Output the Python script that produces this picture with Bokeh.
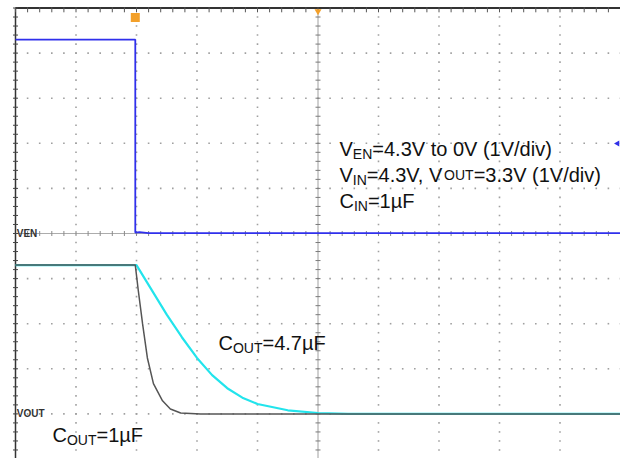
import numpy as np
from bokeh.plotting import figure
from bokeh.models import Range1d
from bokeh.embed import file_html
from bokeh.resources import INLINE
from bokeh.core.properties import value

# ---------------- data (time in divisions, volts at 1 V/div) ----------------
t_en = [0.0, 1.98, 1.98, 2.05, 2.20, 10.0]
v_en = [4.30, 4.30, 0.02, 0.03, 0.01, 0.01]

# V_OUT with C_OUT = 4.7 uF (cyan)
t_out47 = [0.0, 1.98, 2.00, 2.25, 2.50, 2.75, 3.00, 3.25, 3.50, 3.75, 4.00, 4.50, 5.00, 5.50, 10.0]
v_out47 = [3.30, 3.30, 3.30, 2.75, 2.20, 1.70, 1.24, 0.86, 0.57, 0.36, 0.22, 0.08, 0.02, 0.0, 0.0]

# V_OUT with C_OUT = 1 uF (gray)
t_out1 = [0.0, 1.98, 2.03, 2.10, 2.18, 2.28, 2.43, 2.56, 2.73, 3.06, 10.0]
v_out1 = [3.30, 3.30, 2.73, 2.00, 1.24, 0.67, 0.29, 0.11, 0.02, 0.0, 0.0]

VOUT_OFFSET = -4.0   # VOUT ground marker position (divisions)
EN_OFFSET = 0.0      # VEN ground marker position (divisions)
TRIG_T = 1.98

# ---------------- figure ----------------
PX_X = 60.5   # pixels per horizontal division
PX_Y = 45.1   # pixels per vertical division
W, H = 620, 458
x0 = -15 / PX_X
y1 = 5.0 + 7.5 / PX_Y
p = figure(width=W, height=H, output_backend="svg", toolbar_location=None,
           x_range=Range1d(x0, x0 + W / PX_X), y_range=Range1d(y1 - H / PX_Y, y1),
           min_border=0, background_fill_color="white", border_fill_color="white")
p.axis.visible = False
p.grid.visible = False
p.outline_line_color = None

def px2x(px):
    return (px - 15) / PX_X

def px2y(py):
    return (233.0 - py) / PX_Y

# ---------------- graticule ----------------
minor = np.round(np.arange(-5, 5.001, 0.2), 3)
minor_x = np.round(np.arange(0, 10.001, 0.2), 3)
gx, gy = [], []
for xv in range(1, 10):
    if xv == 5:
        continue
    gx += [xv] * len(minor)
    gy += list(minor)
for yv in range(-4, 5):
    if yv == 0:
        continue
    gx += list(minor_x)
    gy += [yv] * len(minor_x)
p.scatter(gx, gy, marker="square", size=1.6, color="#a0a0a0", line_width=0)

# center crosshair
p.line([5, 5], [-5, 5], color="#a0a0a0", line_width=1)
p.line([0, 10], [0, 0], color="#acacac", line_width=1)
p.scatter([5] * len(minor), list(minor), marker="dash", size=5, color="#7a7a7a", line_width=1)
p.scatter(list(minor_x), [0] * len(minor_x), marker="dash", angle=np.pi / 2, size=5,
          color="#8a8a8a", line_width=1)

# borders
p.line([0, 0], [-5.2, 5], color="#333333", line_width=1.5)
p.line([0, 10.2], [5, 5], color="#333333", line_width=1.8)
p.scatter([0] * len(minor), list(minor), marker="dash", size=5, color="#444444", line_width=1)
p.scatter(list(minor_x), [4.96] * len(minor_x), marker="dash", angle=np.pi / 2, size=5,
          color="#555555", line_width=1)

# ---------------- traces ----------------
p.line(t_en, [v + EN_OFFSET for v in v_en], color="#3030ec", line_width=1.8)
p.line(t_out47, [v + VOUT_OFFSET for v in v_out47], color="#22e4ec", line_width=2.2)
p.line(t_out1, [v + VOUT_OFFSET for v in v_out1], color="#555555", line_width=1.5)

# markers
p.scatter([TRIG_T], [px2y(17)], marker="square", size=9, color="#f3a02a", line_width=0)
p.scatter([5], [4.93], marker="inverted_triangle", size=7, color="#f3a02a", line_width=0)
p.scatter([px2x(617)], [px2y(143)], marker="triangle", angle=np.pi / 2, size=6,
          color="#3030e8", line_width=0)

# channel labels
p.text([0.02], [EN_OFFSET], text=["VEN"], text_font=value("Liberation Sans"),
       text_font_style="bold", text_font_size="10px", text_baseline="middle",
       text_color="#333333")
p.text([0.02], [VOUT_OFFSET], text=["VOUT"], text_font=value("Liberation Sans"),
       text_font_style="bold", text_font_size="10px", text_baseline="middle",
       text_color="#333333")

# ---------------- annotations with subscripts ----------------
AW = {"V": 667, "E": 667, "N": 722, "I": 278, "O": 778, "U": 722, "T": 611, "C": 722,
      "F": 611, "=": 584, ".": 278, ",": 278, " ": 278, "t": 278, "o": 556, "(": 333,
      ")": 333, "/": 278, "d": 556, "i": 222, "v": 500, "µ": 576}

def tw(s, size):
    return sum(AW.get(c, 556) for c in s) * size / 1000.0

FS = 20
SUB = 14

def rich(px, py, parts):
    off = 0.0
    for s, kind in parts:
        if kind == "n":
            size, dy = FS, 0
        elif kind == "s":
            size, dy = SUB, 5
        else:
            size, dy = SUB, 0
        p.text([px2x(px + off)], [px2y(py + dy)], text=[s],
               text_font=value("Liberation Sans"), text_font_size=f"{size}px",
               text_baseline="alphabetic", text_align="left", text_color="#111111")
        off += tw(s, size)

rich(339, 148, [("V", "n"), ("EN", "s"), ("=4.3V to 0V (1V/div)", "n")])
rich(339, 174, [("V", "n"), ("IN", "s"), ("=4.3V, V", "n"), ("OUT", "c"),
                ("=3.3V (1V/div)", "n")])
rich(339, 200, [("C", "n"), ("IN", "s"), ("=1µF", "n")])
rich(218, 342, [("C", "n"), ("OUT", "s"), ("=4.7µF", "n")])
rich(52, 434, [("C", "n"), ("OUT", "s"), ("=1µF", "n")])

open("out.html", "w").write(file_html(p, INLINE))
